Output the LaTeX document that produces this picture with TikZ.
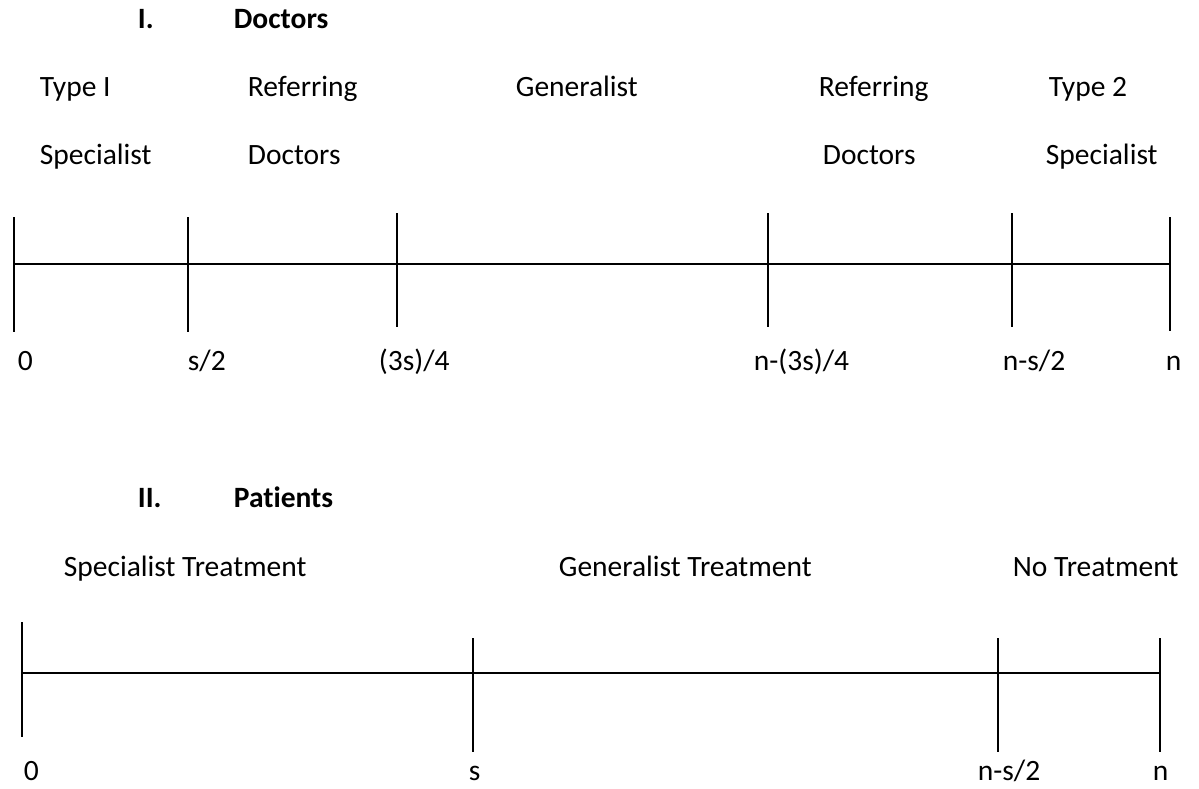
\documentclass[tikz,border=0pt]{standalone}
\usepackage{fontspec}
\setmainfont[Ligatures=NoCommon]{Carlito}
\usetikzlibrary{positioning}

\begin{document}
\begin{tikzpicture}[x=1pt,y=-1pt,line width=1.8pt,
  every node/.style={inner sep=0pt,anchor=base west,font=\fontsize{29.5}{35}\selectfont},
  head/.style={font=\fontsize{29.5}{35}\selectfont\bfseries}]
\useasboundingbox[fill=white] (0,0) rectangle (1199,788);
% I. Doctors
\node[head] (dnum) at (137,28) {I.};
\node[head] (dtitle) at (233,28) {Doctors};
\node (type1) at (39,96) {Type I};
\node (spec1) at (39,164) {Specialist};
\node (ref1) at (247,96) {Referring};
\node (doc1) at (247,164) {Doctors};
\node (gen) at (515,96) {Generalist};
\node (ref2) at (818,96) {Referring};
\node (doc2) at (822,164) {Doctors};
\node (type2) at (1048,96) {Type 2};
\node (spec2) at (1045,164) {Specialist};
\coordinate (dleft) at (14,264);
\coordinate (dright) at (1170,264);
\draw (dleft) -- (dright);
\foreach \x/\t/\b in {14/217/332,188/217/332,397/213/327,768/213/327,1012/213/327,1170/217/331}
  \draw (\x,\t) -- (\x,\b);
\node (d0) at (17,370) {0};
\node (ds2) at (187,370) {s/2};
\node (d3s) at (378,370) {(3s)/4};
\node (dn3s) at (753,370) {n-(3s)/4};
\node (dns2) at (1002,370) {n-s/2};
\node (dn) at (1165,370) {n};
% II. Patients
\node[head] (pnum) at (137,507) {II.};
\node[head] (ptitle) at (233,507) {Patients};
\node (pspec) at (63,576) {Specialist Treatment};
\node (pgen) at (558,576) {Generalist Treatment};
\node (pnone) at (1012,576) {No Treatment};
\coordinate (pleft) at (22,673);
\coordinate (pright) at (1160,673);
\draw (pleft) -- (pright);
\foreach \x/\t/\b in {22/622/737,473/638/752,998/638/752,1160/638/752}
  \draw (\x,\t) -- (\x,\b);
\node (p0) at (23,780) {0};
\node (ps) at (468,780) {s};
\node (pns2) at (977,780) {n-s/2};
\node (pn) at (1152,780) {n};
\end{tikzpicture}
\end{document}
